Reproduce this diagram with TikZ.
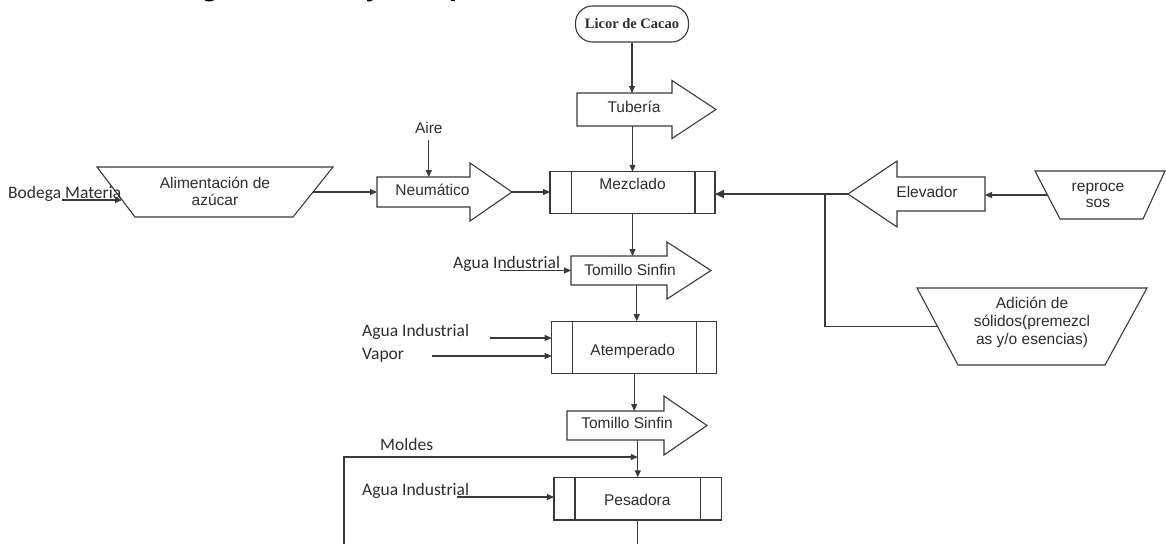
\documentclass[tikz,border=0pt]{standalone}
\usepackage{fontspec}
\setmainfont{Liberation Sans}
\newfontfamily\calib{Carlito}
\newfontfamily\serifb{Liberation Serif}
\usetikzlibrary{arrows.meta,calc}

\definecolor{ink}{HTML}{3A3A3A}
\definecolor{txt}{HTML}{2E2E2E}

% text inside a fixed-size box: #1 horizontal offset, #2 baseline raise
\newcommand\boxtext[3]{\makebox[0pt]{\raisebox{#2}[0pt][0pt]{\hspace*{#1}\hspace*{#1}#3}}}
% right-pointing block arrow drawn around a body node
\newcommand\rarrow[3]{\draw[shp] (#1.north west) -- (#1.north east) -- ([yshift=#2]#1.north east) -- ([xshift=#3]#1.east) -- ([yshift=-#2]#1.south east) -- (#1.south east) -- (#1.south west) -- cycle;}
% left-pointing block arrow
\newcommand\larrow[3]{\draw[shp] (#1.north east) -- (#1.north west) -- ([yshift=#2]#1.north west) -- ([xshift=-#3]#1.west) -- ([yshift=-#2]#1.south west) -- (#1.south west) -- (#1.south east) -- cycle;}
% manual-operation trapezoid (wide side on top)
\newcommand\trap[3]{\draw[shp] (#1.north west) -- (#1.north east) -- ([xshift=-#3]#1.south east) -- ([xshift=#2]#1.south west) -- cycle;}
% predefined-process side bars
\newcommand\bars[3]{\draw[shp] ([xshift=#2]#1.north west) -- ([xshift=#2]#1.south west) ([xshift=-#3]#1.north east) -- ([xshift=-#3]#1.south east);}

\begin{document}
\begin{tikzpicture}[x=1pt,y=-1pt,
  shp/.style={draw=ink, line width=1.1pt, line join=miter},
  body/.style={rectangle, inner sep=0pt, outer sep=0pt, text=txt, font=\fontsize{15.5}{17}\selectfont},
  proc/.style={body, draw=ink, line width=1.1pt},
  lbl/.style={inner sep=0pt, text=txt, font=\calib\fontsize{17.5}{20}\selectfont},
  flow/.style={draw=ink, line width=1.1pt, -{Triangle[length=7pt,width=6pt]}},
  link/.style={draw=ink, line width=1.1pt}
]
\useasboundingbox (0,0) rectangle (1166,543);
\fill[white] (0,0) rectangle (1166,543);
\clip (0,0) rectangle (1166,543);

% heading, cut by the top edge
\node[anchor=base west, inner sep=0pt, text=black, font=\calib\bfseries\fontsize{32}{36}\selectfont] (title) at (158,-3.5) {Diagrama de flujo del proceso};

% source
\node[draw=ink, line width=1.1pt, rounded corners=17pt, minimum width=113pt, minimum height=36pt, inner sep=0pt, text=txt, font=\serifb\bfseries\fontsize{14.5}{16}\selectfont] (licor) at (632,24) {Licor de Cacao};

% conveyors (block arrows)
\node[body, minimum width=95pt, minimum height=33pt] (tub) at (624.5,109.5) {\boxtext{9.5pt}{-2.5pt}{Tubería}};
\rarrow{tub}{12.5pt}{44pt}
\node[body, minimum width=93pt, minimum height=30pt] (neu) at (423.5,192) {\boxtext{9pt}{-3pt}{Neumático}};
\rarrow{neu}{14pt}{42pt}
\node[body, minimum width=96pt, minimum height=29pt] (tor1) at (619,270.5) {\boxtext{11pt}{-4.5pt}{Tomillo Sinfin}};
\rarrow{tor1}{14pt}{44pt}
\node[body, minimum width=97pt, minimum height=29pt] (tor2) at (615.5,425.5) {\boxtext{11.5pt}{-2.5pt}{Tomillo Sinfin}};
\rarrow{tor2}{15pt}{43pt}
\node[body, minimum width=88pt, minimum height=34pt] (elev) at (941,194) {\boxtext{-14pt}{-3pt}{Elevador}};
\larrow{elev}{16pt}{49pt}

% process steps
\node[proc, minimum width=165pt, minimum height=41.5pt] (mez) at (632.5,192.5) {\boxtext{0pt}{3.2pt}{Mezclado}};
\bars{mez}{21.5pt}{20pt}
\node[proc, minimum width=165pt, minimum height=52pt] (ate) at (634.2,347.2) {\boxtext{-1.5pt}{-8pt}{Atemperado}};
\bars{ate}{21pt}{20pt}
\node[proc, minimum width=167.7pt, minimum height=42.7pt] (pes) at (637.8,498.6) {\boxtext{-0.5pt}{-7.3pt}{Pesadora}};
\bars{pes}{21pt}{21pt}

% manual feeds
\node[body, minimum width=236pt, minimum height=50pt] (alim) at (215,192) {\boxtext{0pt}{-13pt}{\begin{tabular}[b]{@{}c@{}}Alimentación de\\azúcar\end{tabular}}};
\trap{alim}{38pt}{40pt}
\node[body, minimum width=130pt, minimum height=48pt] (repr) at (1100,195) {\boxtext{-2pt}{-12pt}{\fontsize{15.5}{16}\selectfont\begin{tabular}[b]{@{}c@{}}reproce\\sos\end{tabular}}};
\trap{repr}{25pt}{22pt}
\node[body, minimum width=230pt, minimum height=77pt] (adic) at (1032,326.5) {\boxtext{0pt}{-17.5pt}{\fontsize{15.5}{18}\selectfont\begin{tabular}[b]{@{}c@{}}Adición de\\sólidos(premezcl\\as y/o esencias)\end{tabular}}};
\trap{adic}{41pt}{42pt}

% stream labels
\node[lbl, anchor=base west] (bodega) at (8,198) {Bodega Materia};
\node[body, anchor=base west] (aire) at (415,133) {Aire};
\node[lbl, anchor=base west] (agua1) at (453,268) {Agua Industrial};
\node[lbl, anchor=base west] (agua2) at (362,336) {Agua Industrial};
\node[lbl, anchor=base west] (vapor) at (362,359) {Vapor};
\node[lbl, anchor=base west] (moldes) at (380,450) {Moldes};
\node[lbl, anchor=base west] (agua3) at (362,495) {Agua Industrial};

% connection points
\coordinate (neu-tip) at ([xshift=42pt]neu.east);
\coordinate (elev-tip) at ([xshift=-49pt]elev.west);
\coordinate (join) at ([xshift=-23pt]elev-tip);
\coordinate (alim-e) at ([xshift=-20pt]alim.east);
\coordinate (alim-in) at ([xshift=25pt,yshift=-8pt]alim.west);
\coordinate (repr-w) at ([xshift=12.5pt]repr.west);
\coordinate (adic-w) at ([xshift=20.5pt]adic.west);
\coordinate (ate-in) at ([xshift=2.5pt]ate.north);
\coordinate (bodega-out) at (62,200);
\coordinate (agua1-out) at (500,270.5);
\coordinate (agua2-out) at (490,338);
\coordinate (vapor-out) at (432,356);
\coordinate (agua3-out) at (457,497);
\coordinate (moldes-in) at (344,550);
\coordinate (moldes-lvl) at (344,457);
\coordinate (bottom) at (0,550);

% flows
\draw[flow] (licor.south) -- (licor.south |- tub.north);
\draw[flow] (mez.north |- tub.south) -- (mez.north);
\draw[flow, shorten <=7pt] (aire.south) -- (aire.south |- neu.north);
\draw[flow] (neu-tip) -- (neu-tip -| mez.west);
\draw[flow] (alim-e) -- (alim-e -| neu.west);
\draw[flow] (bodega-out) -- (alim-in);
\draw[flow] (repr-w) -- (repr-w -| elev.east);
\draw[draw=ink, line width=1.7pt, -{Triangle[length=9pt,width=8pt]}] (elev-tip) -- (elev-tip -| mez.east);
\draw[link] (adic-w) -| (join);
\draw[flow] (mez.south) -- (mez.south |- tor1.north);
\draw[flow] (agua1-out) -- (agua1-out -| tor1.west);
\draw[flow] (ate-in |- tor1.south) -- (ate-in);
\draw[flow] (agua2-out) -- (agua2-out -| ate.west);
\draw[flow] (vapor-out) -- (vapor-out -| ate.west);
\draw[flow] (ate.south) -- (ate.south |- tor2.north);
\draw[flow] (pes.north |- tor2.south) -- (pes.north);
\draw[flow] (moldes-in) |- (moldes-lvl -| pes.north);
\draw[flow] (agua3-out) -- (agua3-out -| pes.west);
\draw[link] (pes.south) -- (pes.south |- bottom);
\end{tikzpicture}
\end{document}
